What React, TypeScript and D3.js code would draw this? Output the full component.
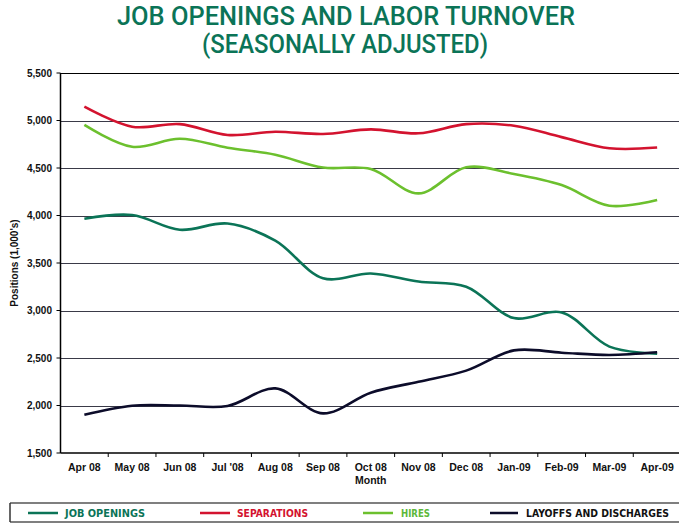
import * as d3 from "d3";

// Chart data (thousands of positions, seasonally adjusted)
const months = [
  "Apr 08", "May 08", "Jun 08", "Jul '08", "Aug 08", "Sep 08", "Oct 08",
  "Nov 08", "Dec 08", "Jan-09", "Feb-09", "Mar-09", "Apr-09",
];
const jobOpenings = [3966, 4005, 3850, 3915, 3735, 3340, 3390, 3305, 3250, 2920, 2980, 2620, 2545];
const separations = [5145, 4935, 4962, 4848, 4882, 4858, 4907, 4865, 4962, 4945, 4825, 4708, 4715];
const hires = [4953, 4724, 4808, 4714, 4640, 4505, 4490, 4233, 4507, 4437, 4320, 4103, 4163];
const layoffs = [1903, 1998, 2000, 1995, 2180, 1917, 2135, 2250, 2367, 2580, 2556, 2532, 2560];
const yTicks = [1500, 2000, 2500, 3000, 3500, 4000, 4500, 5000, 5500];

const series = [
  { name: "JOB OPENINGS", values: jobOpenings, color: "#0b7457", text: "#0b7457" },
  { name: "SEPARATIONS", values: separations, color: "#d3132f", text: "#d3132f" },
  { name: "HIRES", values: hires, color: "#6cc02e", text: "#5cb83a" },
  { name: "LAYOFFS AND DISCHARGES", values: layoffs, color: "#0c0c2a", text: "#111111" },
];

const W = 679;
const H = 523;
const left = 60.5;
const right = 681;
const top = 73;
const bottom = 453;

export default function App() {
  const x = d3.scaleBand<string>().domain(months).range([left, right]).padding(0);
  const y = d3.scaleLinear().domain([1500, 5500]).range([bottom, top]);
  const cx = (m: string) => (x(m) ?? 0) + x.bandwidth() / 2;

  const line = d3
    .line<number>()
    .x((_, i) => cx(months[i]))
    .y((d) => y(d))
    .curve(d3.curveCatmullRom.alpha(0.5));

  const fmt = d3.format(",");

  // legend layout: [line start, line end, text start, text length]
  const legend = [
    [28, 58, 65, 80],
    [200, 230, 237, 71],
    [363, 393, 401, 29],
    [490, 518, 526, 143],
  ];

  return (
    <svg
      width={W}
      height={H}
      style={{ position: "absolute", left: 0, top: 0 }}
      fontFamily="'Liberation Sans', Arial, sans-serif"
    >
      <rect width={W} height={H} fill="#fff" />

      {/* title */}
      <g fill="#0b7457" fontFamily="Roboto, 'Noto Sans', sans-serif" fontWeight={500} fontSize={25} textAnchor="middle">
        <text x={346} y={25} textLength={458} lengthAdjust="spacingAndGlyphs">
          JOB OPENINGS AND LABOR TURNOVER
        </text>
        <text x={345} y={53} textLength={286} lengthAdjust="spacingAndGlyphs">
          (SEASONALLY ADJUSTED)
        </text>
      </g>

      {/* gridlines */}
      {yTicks.slice(1).map((t) => (
        <line key={t} x1={left} x2={right} y1={Math.round(y(t)) + 0.5} y2={Math.round(y(t)) + 0.5}
          stroke={t === 5500 ? "#000" : "#3a3a48"} strokeWidth={1} />
      ))}

      {/* axes */}
      <line x1={left} x2={left} y1={top} y2={bottom} stroke="#000" strokeWidth={1.5} />
      <line x1={left} x2={right} y1={bottom} y2={bottom} stroke="#000" strokeWidth={1.5} />
      {yTicks.map((t) => (
        <g key={t}>
          <line x1={left - 4} x2={left} y1={y(t)} y2={y(t)} stroke="#000" />
          <text x={52} y={y(t) + 3.5} textAnchor="end" fontSize={10} fontWeight="bold" fill="#111">
            {fmt(t)}
          </text>
        </g>
      ))}
      {months.map((m, i) => (
        <g key={m}>
          {i > 0 && <line x1={x(m)} x2={x(m)} y1={bottom} y2={bottom + 4} stroke="#000" />}
          <text x={cx(m)} y={470.5} textAnchor="middle" fontSize={10.5} fontWeight="bold" fill="#111">
            {m}
          </text>
        </g>
      ))}
      <text x={cx("Oct 08")} y={484} textAnchor="middle" fontSize={10.5} fontWeight="bold" fill="#111">
        Month
      </text>
      <text
        transform={`translate(18,${(top + bottom) / 2}) rotate(-90)`}
        textAnchor="middle"
        fontSize={10}
        fontWeight="bold"
        fill="#111"
      >
        Positions (1,000's)
      </text>

      {/* series */}
      {series.map((s) => (
        <path key={s.name} d={line(s.values) ?? ""} fill="none" stroke={s.color} strokeWidth={2.6} />
      ))}

      {/* legend */}
      <line x1={10} x2={W} y1={503} y2={503} stroke="#555" strokeWidth={1.5} />
      <line x1={10} x2={W} y1={522} y2={522} stroke="#555" strokeWidth={1.5} />
      <line x1={10} x2={10} y1={503} y2={522} stroke="#333" strokeWidth={1.5} />
      {series.map((s, i) => {
        const [a, b, t, len] = legend[i];
        return (
          <g key={s.name}>
            <line x1={a} x2={b} y1={513} y2={513} stroke={s.color} strokeWidth={2.5} />
            <text x={t} y={517} fontSize={11} fontWeight="bold" fill={s.text}
              fontFamily="'DejaVu Sans Condensed', 'Liberation Sans', sans-serif"
              textLength={len} lengthAdjust="spacingAndGlyphs">
              {s.name}
            </text>
          </g>
        );
      })}
    </svg>
  );
}
